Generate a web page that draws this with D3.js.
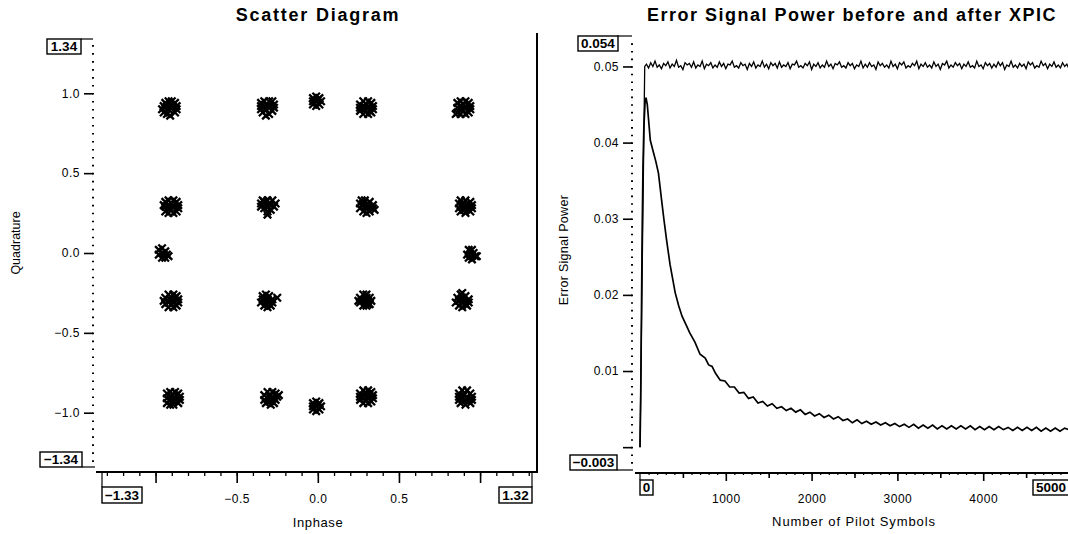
<!DOCTYPE html>
<html><head><meta charset="utf-8">
<script src="https://cdn.jsdelivr.net/npm/d3@7"></script>
<style>
body{margin:0;background:#fff}
svg{display:block;font-family:"Liberation Sans",Arial,Helvetica,sans-serif}
</style></head>
<body><svg id="c" width="1068" height="534"></svg>
<script>
// ---------------- DATA ----------------
const scatterTitle = "Scatter Diagram";
const powerTitle = "Error Signal Power before and after XPIC";
const scatterXLabel = "Inphase", scatterYLabel = "Quadrature";
const powerXLabel = "Number of Pilot Symbols", powerYLabel = "Error Signal Power";

const inphaseLimits = [-1.33, 1.32];
const quadLimits = [-1.34, 1.34];
const inphaseTicks = [-1.0, -0.5, 0.0, 0.5, 1.0];
const inphaseTickLabels = [-0.5, 0.0, 0.5];
const quadTicks = [-1.0, -0.5, 0.0, 0.5, 1.0];
const symbolLimits = [0, 5000];
const symbolTicks = [1000, 2000, 3000, 4000];
const powerLimits = [-0.003, 0.054];
const powerTicks = [0, 0.01, 0.02, 0.03, 0.04, 0.05];
const powerTickLabels = [0.01, 0.02, 0.03, 0.04, 0.05];

// scatter clusters (Inphase, Quadrature)
const c01=[[-0.95,0.88],[-0.93,0.87],[-0.91,0.86],[-0.88,0.88],[-0.87,0.90],[-0.87,0.92],[-0.88,0.94],[-0.90,0.95],[-0.92,0.95],[-0.94,0.94],[-0.95,0.92],[-0.96,0.90],[-0.92,0.90],[-0.90,0.91],[-0.91,0.93],[-0.93,0.92]];
const c02=[[-0.34,0.88],[-0.32,0.86],[-0.30,0.87],[-0.28,0.89],[-0.27,0.91],[-0.27,0.93],[-0.28,0.95],[-0.30,0.95],[-0.33,0.95],[-0.35,0.94],[-0.35,0.92],[-0.35,0.90],[-0.32,0.90],[-0.30,0.91],[-0.31,0.93],[-0.33,0.92]];
const c03=[[-0.03,0.93],[-0.01,0.92],[0.01,0.93],[0.02,0.95],[0.01,0.97],[-0.01,0.98],[-0.03,0.97],[-0.03,0.95],[-0.01,0.95],[0.00,0.96]];
const c04=[[0.26,0.89],[0.28,0.87],[0.31,0.87],[0.33,0.88],[0.34,0.90],[0.34,0.92],[0.33,0.94],[0.31,0.95],[0.28,0.95],[0.26,0.93],[0.26,0.91],[0.29,0.90],[0.31,0.91],[0.30,0.93],[0.28,0.92],[0.32,0.89]];
const c05=[[0.86,0.88],[0.88,0.87],[0.91,0.87],[0.93,0.88],[0.94,0.90],[0.94,0.92],[0.93,0.94],[0.91,0.95],[0.88,0.95],[0.86,0.94],[0.86,0.91],[0.89,0.90],[0.91,0.91],[0.90,0.93],[0.88,0.92],[0.85,0.87]];
const c06=[[-0.94,0.26],[-0.92,0.25],[-0.89,0.25],[-0.87,0.26],[-0.86,0.28],[-0.86,0.30],[-0.87,0.32],[-0.89,0.33],[-0.92,0.33],[-0.94,0.32],[-0.94,0.29],[-0.91,0.28],[-0.89,0.29],[-0.90,0.31],[-0.92,0.30],[-0.95,0.30]];
const c07=[[-0.35,0.31],[-0.34,0.33],[-0.31,0.33],[-0.28,0.33],[-0.26,0.31],[-0.27,0.29],[-0.29,0.27],[-0.31,0.26],[-0.33,0.28],[-0.35,0.29],[-0.32,0.30],[-0.30,0.31],[-0.31,0.29],[-0.29,0.30],[-0.33,0.32],[-0.31,0.24]];
const c08=[[0.26,0.31],[0.27,0.33],[0.29,0.33],[0.32,0.32],[0.34,0.30],[0.34,0.28],[0.32,0.26],[0.30,0.25],[0.28,0.26],[0.26,0.28],[0.29,0.29],[0.31,0.30],[0.30,0.28],[0.28,0.31],[0.32,0.29],[0.35,0.27]];
const c09=[[0.87,0.31],[0.88,0.33],[0.91,0.33],[0.94,0.32],[0.95,0.30],[0.95,0.28],[0.94,0.26],[0.91,0.25],[0.88,0.26],[0.87,0.28],[0.90,0.29],[0.92,0.30],[0.91,0.28],[0.89,0.31],[0.93,0.29],[0.90,0.27]];
const c10=[[-0.98,0.02],[-0.96,0.03],[-0.94,0.01],[-0.93,-0.01],[-0.94,-0.03],[-0.96,-0.03],[-0.98,-0.01],[-0.96,0.00],[-0.95,-0.01],[-0.92,-0.02]];
const c11=[[0.93,0.02],[0.95,0.02],[0.96,0.00],[0.97,-0.02],[0.95,-0.04],[0.93,-0.03],[0.92,-0.01],[0.94,-0.01],[0.95,-0.02],[0.98,-0.02]];
const c12=[[-0.94,-0.28],[-0.92,-0.26],[-0.89,-0.26],[-0.87,-0.27],[-0.86,-0.29],[-0.86,-0.31],[-0.87,-0.33],[-0.89,-0.34],[-0.92,-0.34],[-0.94,-0.32],[-0.95,-0.30],[-0.91,-0.29],[-0.89,-0.30],[-0.90,-0.32],[-0.92,-0.31],[-0.88,-0.28]];
const c13=[[-0.34,-0.27],[-0.32,-0.26],[-0.30,-0.27],[-0.28,-0.29],[-0.28,-0.31],[-0.29,-0.33],[-0.31,-0.34],[-0.33,-0.33],[-0.35,-0.31],[-0.34,-0.29],[-0.31,-0.29],[-0.30,-0.31],[-0.32,-0.31],[-0.31,-0.32],[-0.33,-0.30],[-0.25,-0.28]];
const c14=[[0.26,-0.28],[0.28,-0.26],[0.30,-0.26],[0.32,-0.28],[0.33,-0.30],[0.32,-0.32],[0.30,-0.33],[0.28,-0.33],[0.26,-0.31],[0.29,-0.29],[0.31,-0.30],[0.29,-0.31],[0.27,-0.30],[0.31,-0.32],[0.30,-0.28],[0.25,-0.30]];
const c15=[[0.86,-0.28],[0.88,-0.26],[0.89,-0.25],[0.91,-0.27],[0.93,-0.29],[0.93,-0.31],[0.92,-0.33],[0.89,-0.34],[0.87,-0.33],[0.85,-0.31],[0.88,-0.29],[0.90,-0.30],[0.89,-0.31],[0.87,-0.30],[0.91,-0.32],[0.89,-0.28]];
const c16=[[-0.93,-0.88],[-0.91,-0.87],[-0.88,-0.87],[-0.86,-0.88],[-0.85,-0.90],[-0.85,-0.92],[-0.86,-0.94],[-0.89,-0.95],[-0.91,-0.95],[-0.93,-0.94],[-0.93,-0.91],[-0.90,-0.90],[-0.88,-0.91],[-0.89,-0.93],[-0.91,-0.92],[-0.87,-0.89]];
const c17=[[-0.33,-0.89],[-0.31,-0.87],[-0.28,-0.87],[-0.26,-0.88],[-0.25,-0.90],[-0.26,-0.92],[-0.27,-0.94],[-0.29,-0.95],[-0.32,-0.94],[-0.33,-0.92],[-0.30,-0.90],[-0.28,-0.91],[-0.29,-0.92],[-0.31,-0.91],[-0.24,-0.89],[-0.30,-0.93]];
const c18=[[-0.03,-0.94],[-0.01,-0.93],[0.01,-0.94],[0.02,-0.96],[0.01,-0.98],[-0.01,-0.99],[-0.03,-0.98],[-0.03,-0.96],[-0.01,-0.96],[0.00,-0.95]];
const c19=[[0.26,-0.88],[0.28,-0.86],[0.31,-0.86],[0.33,-0.87],[0.34,-0.89],[0.34,-0.91],[0.33,-0.93],[0.31,-0.94],[0.28,-0.94],[0.26,-0.92],[0.26,-0.90],[0.29,-0.89],[0.31,-0.90],[0.30,-0.92],[0.28,-0.91],[0.32,-0.88]];
const c20=[[0.87,-0.88],[0.89,-0.86],[0.92,-0.86],[0.94,-0.88],[0.95,-0.90],[0.95,-0.92],[0.94,-0.94],[0.91,-0.95],[0.88,-0.94],[0.87,-0.92],[0.87,-0.90],[0.90,-0.89],[0.92,-0.90],[0.91,-0.92],[0.89,-0.91],[0.93,-0.92]];

// error power AFTER XPIC: [pilot symbols, power]
const afterXPIC = [[0,0.0000],[8,0.0060],[15,0.0150],[25,0.0280],[35,0.0370],[45,0.0420],[60,0.0455],[70,0.0459],[85,0.0450],[100,0.0430],[120,0.0403],[150,0.0390],[185,0.0375],[215,0.0360],[250,0.0326],[280,0.0298],[310,0.0272],[350,0.0240],[410,0.0203],[450,0.0186],[490,0.0172],[540,0.0160],[580,0.0150],[640,0.0138],[700,0.0122],[760,0.0117],[800,0.0108],[840,0.0106],
[880,0.0097],[935,0.0088],[990,0.0087],[1045,0.0079],[1100,0.0079],[1155,0.0071],[1210,0.0072],[1265,0.0064],[1320,0.0066],[1375,0.0058],[1430,0.0060],[1485,0.0054],[1540,0.0057],[1595,0.0051],[1650,0.0053],[1705,0.0048],[1760,0.0051],[1815,0.0046],[1870,0.0049],[1925,0.0043],[1980,0.0046],[2035,0.0041],[2090,0.0044],[2145,0.0039],[2200,0.0042],[2255,0.0037],[2310,0.0040],[2365,0.0035],[2420,0.0037],[2475,0.0032],[2530,0.0036],[2585,0.0031],[2640,0.0034],[2695,0.0030],[2750,0.0033],[2805,0.0029],[2860,0.0032],[2915,0.0028],[2970,0.0031],[3025,0.0027],[3080,0.0030],[3135,0.0026],[3190,0.0030],[3245,0.0025],[3300,0.0029],[3355,0.0025],[3410,0.0029],[3465,0.0024],[3520,0.0028],[3575,0.0024],[3630,0.0028],[3685,0.0024],[3740,0.0028],[3795,0.0024],[3850,0.0028],[3905,0.0023],[3960,0.0027],[4015,0.0023],[4070,0.0027],[4125,0.0023],[4180,0.0027],[4235,0.0023],[4290,0.0026],[4345,0.0022],[4400,0.0026],[4455,0.0022],[4510,0.0026],[4565,0.0022],[4620,0.0026],[4675,0.0021],[4730,0.0025],[4785,0.0021],[4840,0.0025],[4895,0.0021],[4950,0.0025],[5000,0.0023]];

// error power BEFORE XPIC: start, then samples every 25 symbols from 75 to 5000
const beforeStartPoints = [[0,0.0000],[55,0.0500]];
const beforeFirstSymbol = 75, beforeSymbolStep = 25;
const beforeXPIC = [
0.0503,0.0498,0.0505,0.0500,0.0507,0.0499,0.0502,0.0497,0.0504,0.0501,
0.0506,0.0498,0.0503,0.0500,0.0508,0.0499,0.0501,0.0496,0.0505,0.0502,
0.0504,0.0499,0.0506,0.0498,0.0502,0.0500,0.0507,0.0497,0.0503,0.0501,
0.0505,0.0498,0.0502,0.0499,0.0506,0.0500,0.0504,0.0497,0.0503,0.0502,
0.0507,0.0499,0.0501,0.0498,0.0505,0.0501,0.0503,0.0496,0.0504,0.0500,
0.0506,0.0498,0.0502,0.0500,0.0507,0.0499,0.0503,0.0497,0.0505,0.0501,
0.0504,0.0498,0.0506,0.0499,0.0502,0.0500,0.0505,0.0497,0.0503,0.0502,
0.0507,0.0499,0.0501,0.0498,0.0504,0.0501,0.0506,0.0496,0.0503,0.0500,
0.0505,0.0498,0.0502,0.0499,0.0507,0.0500,0.0503,0.0497,0.0504,0.0502,
0.0506,0.0499,0.0501,0.0498,0.0505,0.0501,0.0504,0.0497,0.0502,0.0500,
0.0507,0.0498,0.0503,0.0499,0.0505,0.0500,0.0502,0.0496,0.0506,0.0501,
0.0504,0.0499,0.0502,0.0498,0.0507,0.0500,0.0503,0.0497,0.0505,0.0502,
0.0506,0.0498,0.0501,0.0499,0.0504,0.0501,0.0507,0.0497,0.0503,0.0500,
0.0505,0.0499,0.0502,0.0498,0.0506,0.0500,0.0503,0.0496,0.0504,0.0502,
0.0507,0.0498,0.0502,0.0499,0.0505,0.0501,0.0504,0.0497,0.0503,0.0500,
0.0506,0.0499,0.0501,0.0498,0.0507,0.0500,0.0502,0.0497,0.0505,0.0501,
0.0504,0.0498,0.0503,0.0499,0.0506,0.0501,0.0505,0.0496,0.0502,0.0500,
0.0507,0.0499,0.0502,0.0498,0.0504,0.0500,0.0503,0.0497,0.0506,0.0502,
0.0505,0.0498,0.0501,0.0499,0.0507,0.0501,0.0504,0.0497,0.0503,0.0500,
0.0506,0.0499,0.0502,0.0498,0.0505,0.0500,0.0503,0.0497];

// ---------------- DRAWING ----------------
const svg = d3.select("#c");
const F = '"Liberation Sans",Arial,Helvetica,sans-serif';

// Scales
const xL = d3.scaleLinear().domain(inphaseLimits).range([102, 532]);
const yL = d3.scaleLinear().domain(quadLimits).range([467, 39]);
const xR = d3.scaleLinear().domain(symbolLimits).range([640, 1069]);
const yR = d3.scaleLinear().domain(powerLimits).range([470, 36]);

function styleAxis(g, fs) {
  g.select(".domain").remove();
  g.attr("font-family", F).attr("font-size", fs);
  g.selectAll(".tick line").attr("stroke", "#000").attr("stroke-width", 1.6);
  g.selectAll(".tick text").attr("fill", "#000").attr("letter-spacing", "0.5px");
}

// Titles
svg.append("text").attr("x", 318).attr("y", 21).attr("text-anchor", "middle")
  .attr("font-size", 18).attr("font-weight", "bold").attr("letter-spacing", "1.75px").text(scatterTitle);
svg.append("text").attr("x", 852).attr("y", 21).attr("text-anchor", "middle")
  .attr("font-size", 18).attr("font-weight", "bold").attr("letter-spacing", "1.5px").text(powerTitle);

// ===== LEFT: scatter =====
const axY0 = 472;   // x-axis line position
const axX0 = 93;    // y-axis position
svg.append("line").attr("x1", 96).attr("x2", 537).attr("y1", axY0).attr("y2", axY0)
  .attr("stroke", "#000").attr("stroke-width", 2);
svg.append("line").attr("x1", 537).attr("x2", 537).attr("y1", 33).attr("y2", axY0 + 1)
  .attr("stroke", "#000").attr("stroke-width", 2);

const gxMinor = svg.append("g").attr("transform", `translate(0,${axY0})`)
  .call(d3.axisBottom(xL).tickValues(d3.range(-13, 14).map(d => d / 10)).tickSize(4).tickFormat(""));
styleAxis(gxMinor, 12); gxMinor.selectAll(".tick line").attr("stroke-width", 1.3);
const gxMajor = svg.append("g").attr("transform", `translate(0,${axY0})`)
  .call(d3.axisBottom(xL).tickValues(inphaseTicks).tickSize(11).tickPadding(11)
    .tickFormat(d => inphaseTickLabels.includes(d) ? d3.format(".1f")(d) : ""));
styleAxis(gxMajor, 12);

const gyMinor = svg.append("g").attr("transform", `translate(${axX0 + 1},0)`)
  .call(d3.axisLeft(yL).tickValues(d3.range(-26, 27).map(d => d / 20)).tickSize(2).tickFormat(""));
styleAxis(gyMinor, 12);
const gyMajor = svg.append("g").attr("transform", `translate(${axX0},0)`)
  .call(d3.axisLeft(yL).tickValues(quadTicks).tickSize(9).tickPadding(4).tickFormat(d3.format(".1f")));
styleAxis(gyMajor, 12);

// Scatter points
const clusters = [c01,c02,c03,c04,c05,c06,c07,c08,c09,c10,c11,c12,c13,c14,c15,c16,c17,c18,c19,c20];
const cross = d3.symbol(d3.symbolX, 38);
svg.append("g").selectAll("path").data(clusters.flat()).join("path")
  .attr("transform", d => `translate(${xL(d[0])},${yL(d[1])})`)
  .attr("d", cross).attr("fill", "none").attr("stroke", "#000").attr("stroke-width", 2.3);

// axis labels
svg.append("text").attr("x", 318).attr("y", 527).attr("text-anchor", "middle")
  .attr("font-size", 13).attr("letter-spacing", "0.6px").text(scatterXLabel);
svg.append("text").attr("transform", "translate(20,243) rotate(-90)").attr("text-anchor", "middle")
  .attr("font-size", 12.5).text(scatterYLabel);

// boxed limit labels
function boxLabel(x, y, w, h, txt) {
  svg.append("rect").attr("x", x).attr("y", y).attr("width", w).attr("height", h)
    .attr("fill", "#fff").attr("stroke", "#000").attr("stroke-width", 1.4);
  svg.append("text").attr("x", x + w / 2).attr("y", y + h / 2).attr("dy", "0.36em")
    .attr("text-anchor", "middle").attr("font-size", 13.5).attr("font-weight", "bold").text(txt);
}
function connector(x1, y1, x2, y2) {
  svg.append("line").attr("x1", x1).attr("y1", y1).attr("x2", x2).attr("y2", y2)
    .attr("stroke", "#000").attr("stroke-width", 1.2);
}
const f2 = d3.format(".2f"), f3 = d3.format(".3f");
connector(81, yL(quadLimits[1]), axX0, yL(quadLimits[1]));
boxLabel(47, yL(quadLimits[1]), 34, 15, f2(quadLimits[1]));
connector(82, yL(quadLimits[0]), axX0 + 2, yL(quadLimits[0]));
boxLabel(40, yL(quadLimits[0]) - 15, 42, 15, f2(quadLimits[0]));
connector(xL(inphaseLimits[0]), axY0, xL(inphaseLimits[0]), 487);
boxLabel(xL(inphaseLimits[0]), 487, 40, 16, f2(inphaseLimits[0]));
connector(xL(inphaseLimits[1]), axY0, xL(inphaseLimits[1]), 487);
boxLabel(xL(inphaseLimits[1]) - 33, 487, 33, 16, f2(inphaseLimits[1]));

// ===== RIGHT: error power =====
const axY1 = 473, axX1 = 632;
svg.append("line").attr("x1", 635).attr("x2", 1068).attr("y1", axY1).attr("y2", axY1)
  .attr("stroke", "#000").attr("stroke-width", 2);

const gxR100 = svg.append("g").attr("transform", `translate(0,${axY1})`)
  .call(d3.axisBottom(xR).tickValues(d3.range(1, 50).map(d => d * 100)).tickSize(2).tickFormat(""));
styleAxis(gxR100, 12); gxR100.selectAll(".tick line").attr("stroke-width", 1.2);
const gxR500 = svg.append("g").attr("transform", `translate(0,${axY1})`)
  .call(d3.axisBottom(xR).tickValues([500, 1500, 2500, 3500, 4500]).tickSize(5).tickFormat(""));
styleAxis(gxR500, 12);
const gxR = svg.append("g").attr("transform", `translate(0,${axY1})`)
  .call(d3.axisBottom(xR).tickValues(symbolTicks).tickSize(8).tickPadding(13).tickFormat(d3.format("d")));
styleAxis(gxR, 12);

const gyRMinor = svg.append("g").attr("transform", `translate(${axX1 + 1},0)`)
  .call(d3.axisLeft(yR).tickValues(d3.range(-2, 54).map(d => d / 1000)).tickSize(2).tickFormat(""));
styleAxis(gyRMinor, 12);
const gyR = svg.append("g").attr("transform", `translate(${axX1},0)`)
  .call(d3.axisLeft(yR).tickValues(powerTicks).tickSize(9).tickPadding(4)
    .tickFormat(d => powerTickLabels.includes(d) ? f2(d) : ""));
styleAxis(gyR, 12);

// lines
const line = d3.line().x(d => xR(d[0])).y(d => yR(d[1]));
const beforeSeries = beforeStartPoints.concat(beforeXPIC.map((v, i) => [beforeFirstSymbol + i * beforeSymbolStep, v]));
svg.append("path").datum(beforeSeries).attr("d", line)
  .attr("fill", "none").attr("stroke", "#000").attr("stroke-width", 1.3);
svg.append("path").datum(afterXPIC).attr("d", line)
  .attr("fill", "none").attr("stroke", "#000").attr("stroke-width", 1.7);

// axis labels
svg.append("text").attr("x", 854).attr("y", 526).attr("text-anchor", "middle")
  .attr("font-size", 13).attr("letter-spacing", "0.9px").text(powerXLabel);
svg.append("text").attr("transform", "translate(568,250) rotate(-90)").attr("text-anchor", "middle")
  .attr("font-size", 12.5).attr("letter-spacing", "0.3px").text(powerYLabel);

connector(617, yR(powerLimits[1]), axX1, yR(powerLimits[1]));
boxLabel(578, yR(powerLimits[1]), 40, 15, f3(powerLimits[1]));
connector(617, yR(powerLimits[0]), axX1 + 1, yR(powerLimits[0]));
boxLabel(570, yR(powerLimits[0]) - 15, 47, 15, f3(powerLimits[0]));
connector(xR(symbolLimits[0]), axY1, xR(symbolLimits[0]), 480);
boxLabel(xR(symbolLimits[0]), 480, 13, 15, d3.format("d")(symbolLimits[0]));
boxLabel(xR(symbolLimits[1]) - 36, 480, 36, 15, d3.format("d")(symbolLimits[1]));
</script></body></html>
